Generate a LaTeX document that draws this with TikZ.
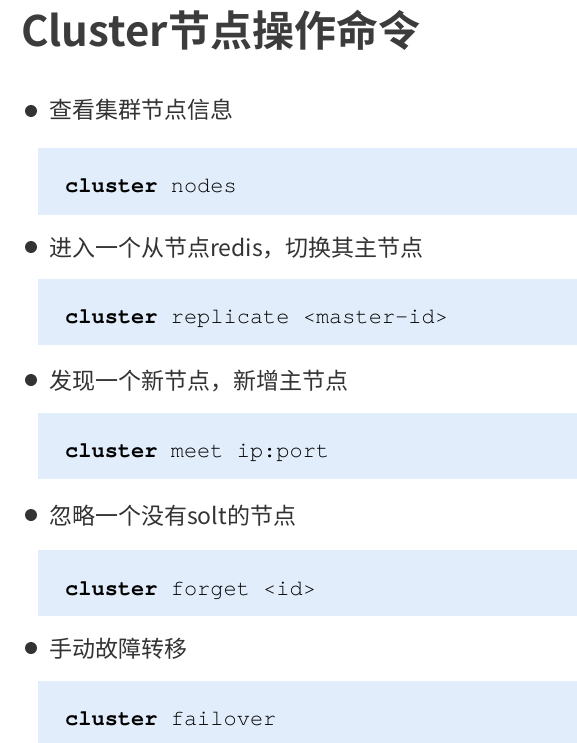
\documentclass[tikz,border=0pt]{standalone}
\usepackage{fontspec}
\newfontfamily\cjk{Noto Sans CJK SC}
\newfontfamily\cjkbold{Noto Sans CJK SC Bold}
\setmonofont{TeX Gyre Cursor}
\definecolor{codeblue}{RGB}{226, 237, 251}
\definecolor{textgray}{RGB}{51, 51, 51}
\definecolor{titlegray}{RGB}{60, 60, 60}

\begin{document}
\begin{tikzpicture}[x=1pt, y=-1pt,
    item/.style={anchor=base west, inner sep=0, text=textgray, font=\cjk\fontsize{23}{23}\selectfont},
    dot/.style={circle, fill=textgray, inner sep=0, minimum size=12pt},
    codebox/.style={fill=codeblue, draw=none},
    code/.style={anchor=base west, inner sep=0, text=black, font=\ttfamily\fontsize{22}{22}\selectfont}]
			\useasboundingbox (0,0) rectangle (577,743);
			
			% Title
			\node[anchor=base west, inner sep=0, text=titlegray, font=\cjkbold\fontsize{42}{42}\selectfont] (title) at (21,47) {Cluster节点操作命令};
			
			% Code boxes
			\fill[codebox] (38,148) rectangle (577,215);
			\fill[codebox] (38,279) rectangle (577,345);
			\fill[codebox] (38,413) rectangle (577,479);
			\fill[codebox] (38,550) rectangle (577,616);
			\fill[codebox] (38,681) rectangle (577,743);
			
			% Bullets
			\node[dot] (d1) at (31,111) {};
			\node[dot] (d2) at (31,247) {};
			\node[dot] (d3) at (31,380) {};
			\node[dot] (d4) at (31,515) {};
			\node[dot] (d5) at (31,648) {};
			
			% Items
			\node[item] (i1) at (49,119) {查看集群节点信息};
			\node[item] (i2) at (49,256) {进入一个从节点redis，切换其主节点};
			\node[item] (i3) at (49,389) {发现一个新节点，新增主节点};
			\node[item] (i4) at (49,524) {忽略一个没有solt的节点};
			\node[item] (i5) at (49,657) {手动故障转移};
			
			% Commands
			\node[code] (c1) at (65,193) {\textbf{cluster} nodes};
			\node[code] (c2) at (65,323) {\textbf{cluster} replicate <master-id>};
			\node[code] (c3) at (65,457) {\textbf{cluster} meet ip:port};
			\node[code] (c4) at (65,595) {\textbf{cluster} forget <id>};
			\node[code] (c5) at (65,725) {\textbf{cluster} failover};
		\end{tikzpicture}
\end{document}
